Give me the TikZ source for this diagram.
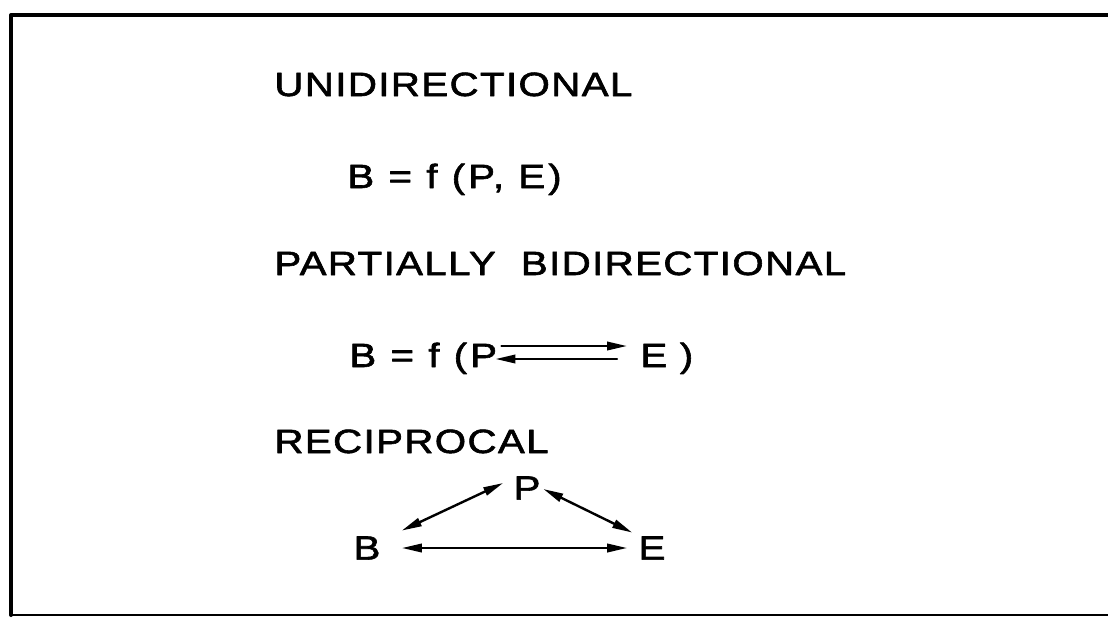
\documentclass[tikz,border=0pt]{standalone}
\usepackage{fontspec}
\usetikzlibrary{arrows.meta}
\newfontfamily\lettering[FakeStretch=1.2,FakeBold=1.8,LetterSpace=4]{Liberation Sans}
\newfontfamily\eqletter[FakeStretch=1.2,FakeBold=1.8,LetterSpace=9]{Liberation Sans}
\newfontfamily\plainletter[FakeStretch=1.2,FakeBold=1.8]{Liberation Sans}
\newcommand{\hand}{\fontsize{16.8}{20}\selectfont}

\begin{document}
\begin{tikzpicture}[x=0.5pt,y=-0.5pt,line cap=round,line join=round,
  >={Triangle[length=10pt,width=4.2pt]},
  txt/.style={inner sep=0pt,anchor=base west,font=\hand\lettering},
  eqn/.style={txt,font=\hand\eqletter},
  pt/.style={inner sep=0pt,font=\hand\plainletter},
  link/.style={line width=1.2pt}]
\useasboundingbox (0,0) rectangle (1108,617);

% frame (open on the right)
\draw[line width=2pt] (1108,15) -- (11,15) -- (11,615);
\draw[line width=1.3pt] (11,615) -- (1108,615);

% headings and equations
\node[txt] (uni) at (274,96) {UNIDIRECTIONAL};
\node[eqn] (equni) at (347,188) {B = f (P, E)};
\node[txt] (part) at (274,275) {PARTIALLY \ BIDIRECTIONAL};
\node[eqn] (eqB) at (349,367) {B = f (P};
\node[txt] (eqE) at (640,367) {E )};
\node[txt] (reci) at (274,453) {RECIPROCAL};

% the two arrows inside the partial equation
\draw[link,->] ([xshift=2pt,yshift=10.5pt]eqB.base east) -- ([xshift=-6.5pt,yshift=10.5pt]eqE.base west);
\draw[link,<-] ([xshift=-1pt,yshift=4pt]eqB.base east) -- ([xshift=-11.5pt,yshift=4pt]eqE.base west);

% triangle B, P, E
\node[pt] (P) at (527,488) {P};
\node[pt] (B) at (367,548) {B};
\node[pt] (E) at (652,548) {E};

\draw[link,<->] ([xshift=10.5pt,yshift=2.75pt]B.north east) -- ([xshift=-5pt,yshift=2.5pt]P.west);
\draw[link,<->] ([xshift=1.25pt,yshift=-0.5pt]P.east) -- ([xshift=-3pt,yshift=1.75pt]E.north west);
\draw[link,<->] ([xshift=10.5pt]B.east) -- ([xshift=-5.5pt]E.west);

\end{tikzpicture}
\end{document}
